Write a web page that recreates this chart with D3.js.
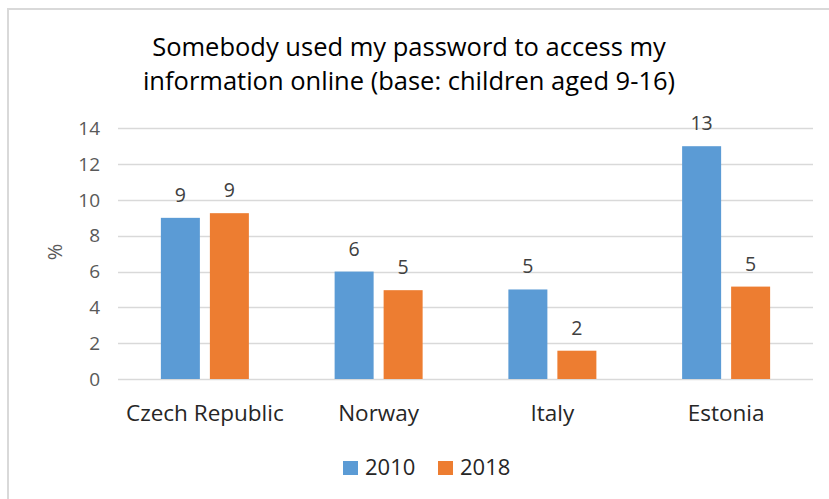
<!DOCTYPE html>
<html>
<head>
<meta charset="utf-8">
<script src="https://cdn.jsdelivr.net/npm/d3@7"></script>
<style>
  body { margin: 0; background: #fff; }
  text { font-family: "Open Sans", "Liberation Sans", sans-serif; }
</style>
</head>
<body>
<svg></svg>
<script>
const countries = ["Czech Republic", "Norway", "Italy", "Estonia"];
const years = ["2010", "2018"];
const values2010 = [9, 6, 5, 13];
const values2018 = [9.26, 4.96, 1.58, 5.16];
const yTicks = [0, 2, 4, 6, 8, 10, 12, 14];
const titleLines = [
  "Somebody used my password to access my",
  "information online (base: children aged 9-16)"
];

const colors = ["#5b9bd5", "#ed7d31"];
const width = 829;
const height = 499;

const svg = d3.select("svg").attr("width", width).attr("height", height);

// chart border
svg.append("rect")
  .attr("x", 8).attr("y", 9)
  .attr("width", width).attr("height", height)
  .attr("fill", "none")
  .attr("stroke", "#d9d9d9")
  .attr("stroke-width", 2);

const margin = { top: 128.3, right: 16, bottom: 120, left: 118 };

const x = d3.scaleBand()
  .domain(countries)
  .range([margin.left, width - margin.right]);

const y = d3.scaleLinear()
  .domain([0, 14])
  .range([379, 128.3]);

const barWidth = 39;
const barGap = 10;

// gridlines
svg.append("g")
  .selectAll("line")
  .data(yTicks)
  .join("line")
  .attr("x1", margin.left)
  .attr("x2", width - margin.right)
  .attr("y1", d => Math.round(y(d)) + 0.5)
  .attr("y2", d => Math.round(y(d)) + 0.5)
  .attr("stroke", "#d9d9d9")
  .attr("stroke-width", 1.3);

// y axis labels
const yAxis = svg.append("g")
  .attr("transform", `translate(${margin.left - 18},0)`)
  .call(d3.axisLeft(y).tickValues(yTicks).tickSize(0).tickPadding(0));
yAxis.select(".domain").remove();
yAxis.selectAll("text")
  .attr("fill", "#595959")
  .style("font-size", "19px")
  .style("font-family", "'Open Sans', sans-serif");

svg.append("text")
  .attr("transform", "translate(62,252) rotate(-90)")
  .attr("text-anchor", "middle")
  .attr("fill", "#595959")
  .style("font-size", "20px")
  .text("%");

// bars
const series = [values2010, values2018];
series.forEach((vals, s) => {
  const g = svg.append("g");
  const offset = s === 0 ? -barGap / 2 - barWidth : barGap / 2;
  g.selectAll("rect")
    .data(vals)
    .join("rect")
    .attr("x", (d, i) => x(countries[i]) + x.bandwidth() / 2 + offset)
    .attr("y", d => y(d))
    .attr("width", barWidth)
    .attr("height", d => y(0) - y(d))
    .attr("fill", colors[s]);

  g.selectAll("text")
    .data(vals)
    .join("text")
    .attr("x", (d, i) => x(countries[i]) + x.bandwidth() / 2 + offset + barWidth / 2)
    .attr("y", d => y(d) - 16)
    .attr("text-anchor", "middle")
    .attr("fill", "#404040")
    .style("font-size", "19.5px")
    .text(d => Math.round(d));
});

// category labels
svg.append("g")
  .selectAll("text")
  .data(countries)
  .join("text")
  .attr("x", d => x(d) + x.bandwidth() / 2)
  .attr("y", 421)
  .attr("text-anchor", "middle")
  .attr("fill", "#262626")
  .style("font-size", "22.5px")
  .text(d => d);

// title
svg.append("text")
  .attr("x", 409)
  .attr("text-anchor", "middle")
  .attr("fill", "#000")
  .style("font-size", "25.5px")
  .selectAll("tspan")
  .data(titleLines)
  .join("tspan")
  .attr("x", 409)
  .attr("y", (d, i) => 56 + i * 34)
  .text(d => d);

// legend
const legend = svg.append("g");
const legendX = [343, 438];
years.forEach((yr, i) => {
  legend.append("rect")
    .attr("x", legendX[i])
    .attr("y", 461)
    .attr("width", 15)
    .attr("height", 14)
    .attr("fill", colors[i]);
  legend.append("text")
    .attr("x", legendX[i] + 22)
    .attr("y", 475)
    .attr("fill", "#262626")
    .style("font-size", "22px")
    .text(yr);
});
</script>
</body>
</html>
